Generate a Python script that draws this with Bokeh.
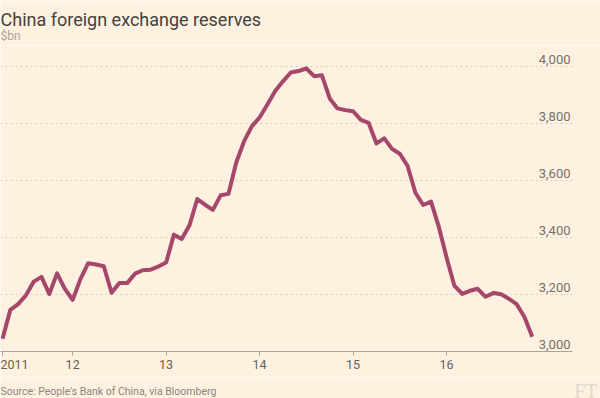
from bokeh.plotting import figure
from bokeh.models import Range1d, FixedTicker, Label
from bokeh.layouts import column
from bokeh.embed import file_html
from bokeh.resources import INLINE
from bokeh.core.properties import value

title_text = "China foreign exchange reserves"
subtitle_text = "$bn"
source_text = "Source: People's Bank of China, via Bloomberg"
logo_text = "FT"

# Month-end reserves, $bn, from March 2011 to November 2016
start_year, start_month = 2011, 3
reserves = [
    3045, 3146, 3166, 3197, 3245, 3262, 3202, 3274, 3220, 3181,              # 2011 Mar-Dec
    3254, 3310, 3305, 3299, 3206, 3240, 3240, 3273, 3285, 3287, 3298, 3312,  # 2012
    3410, 3395, 3443, 3535, 3515, 3497, 3548, 3553, 3663, 3737, 3790, 3821,  # 2013
    3867, 3914, 3948, 3979, 3984, 3993, 3966, 3969, 3888, 3853, 3847, 3843,  # 2014
    3813, 3802, 3730, 3748, 3711, 3694, 3651, 3557, 3514, 3526, 3438, 3330,  # 2015
    3231, 3202, 3213, 3220, 3192, 3205, 3201, 3185, 3166, 3121, 3052,        # 2016 Jan-Nov
]

# x ticks: month index (months since end of 2010)
x_tick_pos = [3, 12, 24, 36, 48, 60]
x_tick_labels = ["2011", "12", "13", "14", "15", "16"]
y_ticks = [3000, 3200, 3400, 3600, 3800, 4000]
y_tick_labels = ["3,000", "3,200", "3,400", "3,600", "3,800", "4,000"]

# month index for each observation
xs = []
yr, mo = start_year, start_month
for _ in reserves:
    xs.append((yr - 2011) * 12 + mo)
    mo += 1
    if mo > 12:
        mo = 1
        yr += 1

BG = "#fff1e0"
FONT = "Roboto"
W = 600
HEAD_H, MAIN_H, FOOT_H = 45, 331, 22
X_START, X_AXIS_END, X_END = 2.74, 76.17, 79.76
Y_START, Y_END = 3000, 4073.7
GRID_COLOR = "#d6cdc3"
AXIS_COLOR = "#aaa39b"


def band(height, top):
    # a plain strip whose data units are page pixels (y grows downwards)
    f = figure(width=W, height=height, output_backend="svg", toolbar_location=None,
               x_range=Range1d(0, W), y_range=Range1d(top + height, top),
               x_axis_location=None, y_axis_location=None,
               min_border=0, background_fill_color=BG, border_fill_color=BG,
               outline_line_color=None)
    f.grid.visible = False
    return f


# header: title and unit
head = band(HEAD_H, 0)
head.add_layout(Label(x=0, y=19, text=title_text, text_align="left",
                      text_baseline="alphabetic", text_font=FONT,
                      text_font_size="18px", text_color="#43413e"))
head.add_layout(Label(x=0, y=35, text=subtitle_text, text_align="left",
                      text_baseline="alphabetic", text_font=FONT,
                      text_font_size="12px", text_color="#aca49a"))

# main chart
p = figure(width=W, height=MAIN_H, output_backend="svg", toolbar_location=None,
           x_range=Range1d(X_START, X_END), y_range=Range1d(Y_START, Y_END),
           min_border_left=0, min_border_right=0, min_border_top=0, min_border_bottom=25,
           background_fill_color=BG, border_fill_color=BG, outline_line_color=None)

p.grid.visible = False
p.yaxis.visible = False

# dotted gridlines, ending where the axis ends
grid_levels = y_ticks[1:]
p.segment(x0=X_START, x1=X_AXIS_END, y0=grid_levels, y1=grid_levels,
          line_color=GRID_COLOR, line_dash="2 3", line_width=1)

ax = p.xaxis[0]
ax.bounds = (X_START, X_AXIS_END)
ax.ticker = FixedTicker(ticks=x_tick_pos)
ax.major_label_overrides = {k: v for k, v in zip(x_tick_pos, x_tick_labels)}
ax.axis_line_color = AXIS_COLOR
ax.major_tick_line_color = AXIS_COLOR
ax.major_tick_out = 4
ax.major_tick_in = 0
ax.minor_tick_line_color = None
ax.major_label_text_align = "left"
ax.major_label_standoff = 4
ax.major_label_text_font = FONT
ax.major_label_text_font_size = "12.5px"
ax.major_label_text_color = "#66605c"

p.text(x=X_AXIS_END, y=y_ticks, text=y_tick_labels, text_align="right",
       text_baseline="bottom", x_offset=-2, y_offset=-3, text_font=value(FONT),
       text_font_size="13px", text_color="#74706b")

p.line(xs, reserves, line_color="#a5476b", line_width=4, line_join="round")

# footer: source and logo
top = HEAD_H + MAIN_H
foot = band(FOOT_H, top)
foot.add_layout(Label(x=0, y=391, text=source_text, text_align="left",
                      text_baseline="alphabetic", text_font=FONT,
                      text_font_size="10.5px", text_color="#8c857e"))
foot.add_layout(Label(x=597, y=390, text=logo_text, text_align="right",
                      text_baseline="alphabetic", text_font="Liberation Serif",
                      text_font_size="20px", text_color="#e3d8cb"))

layout = column(head, p, foot, spacing=0)
open("out.html", "w").write(file_html(layout, INLINE))
